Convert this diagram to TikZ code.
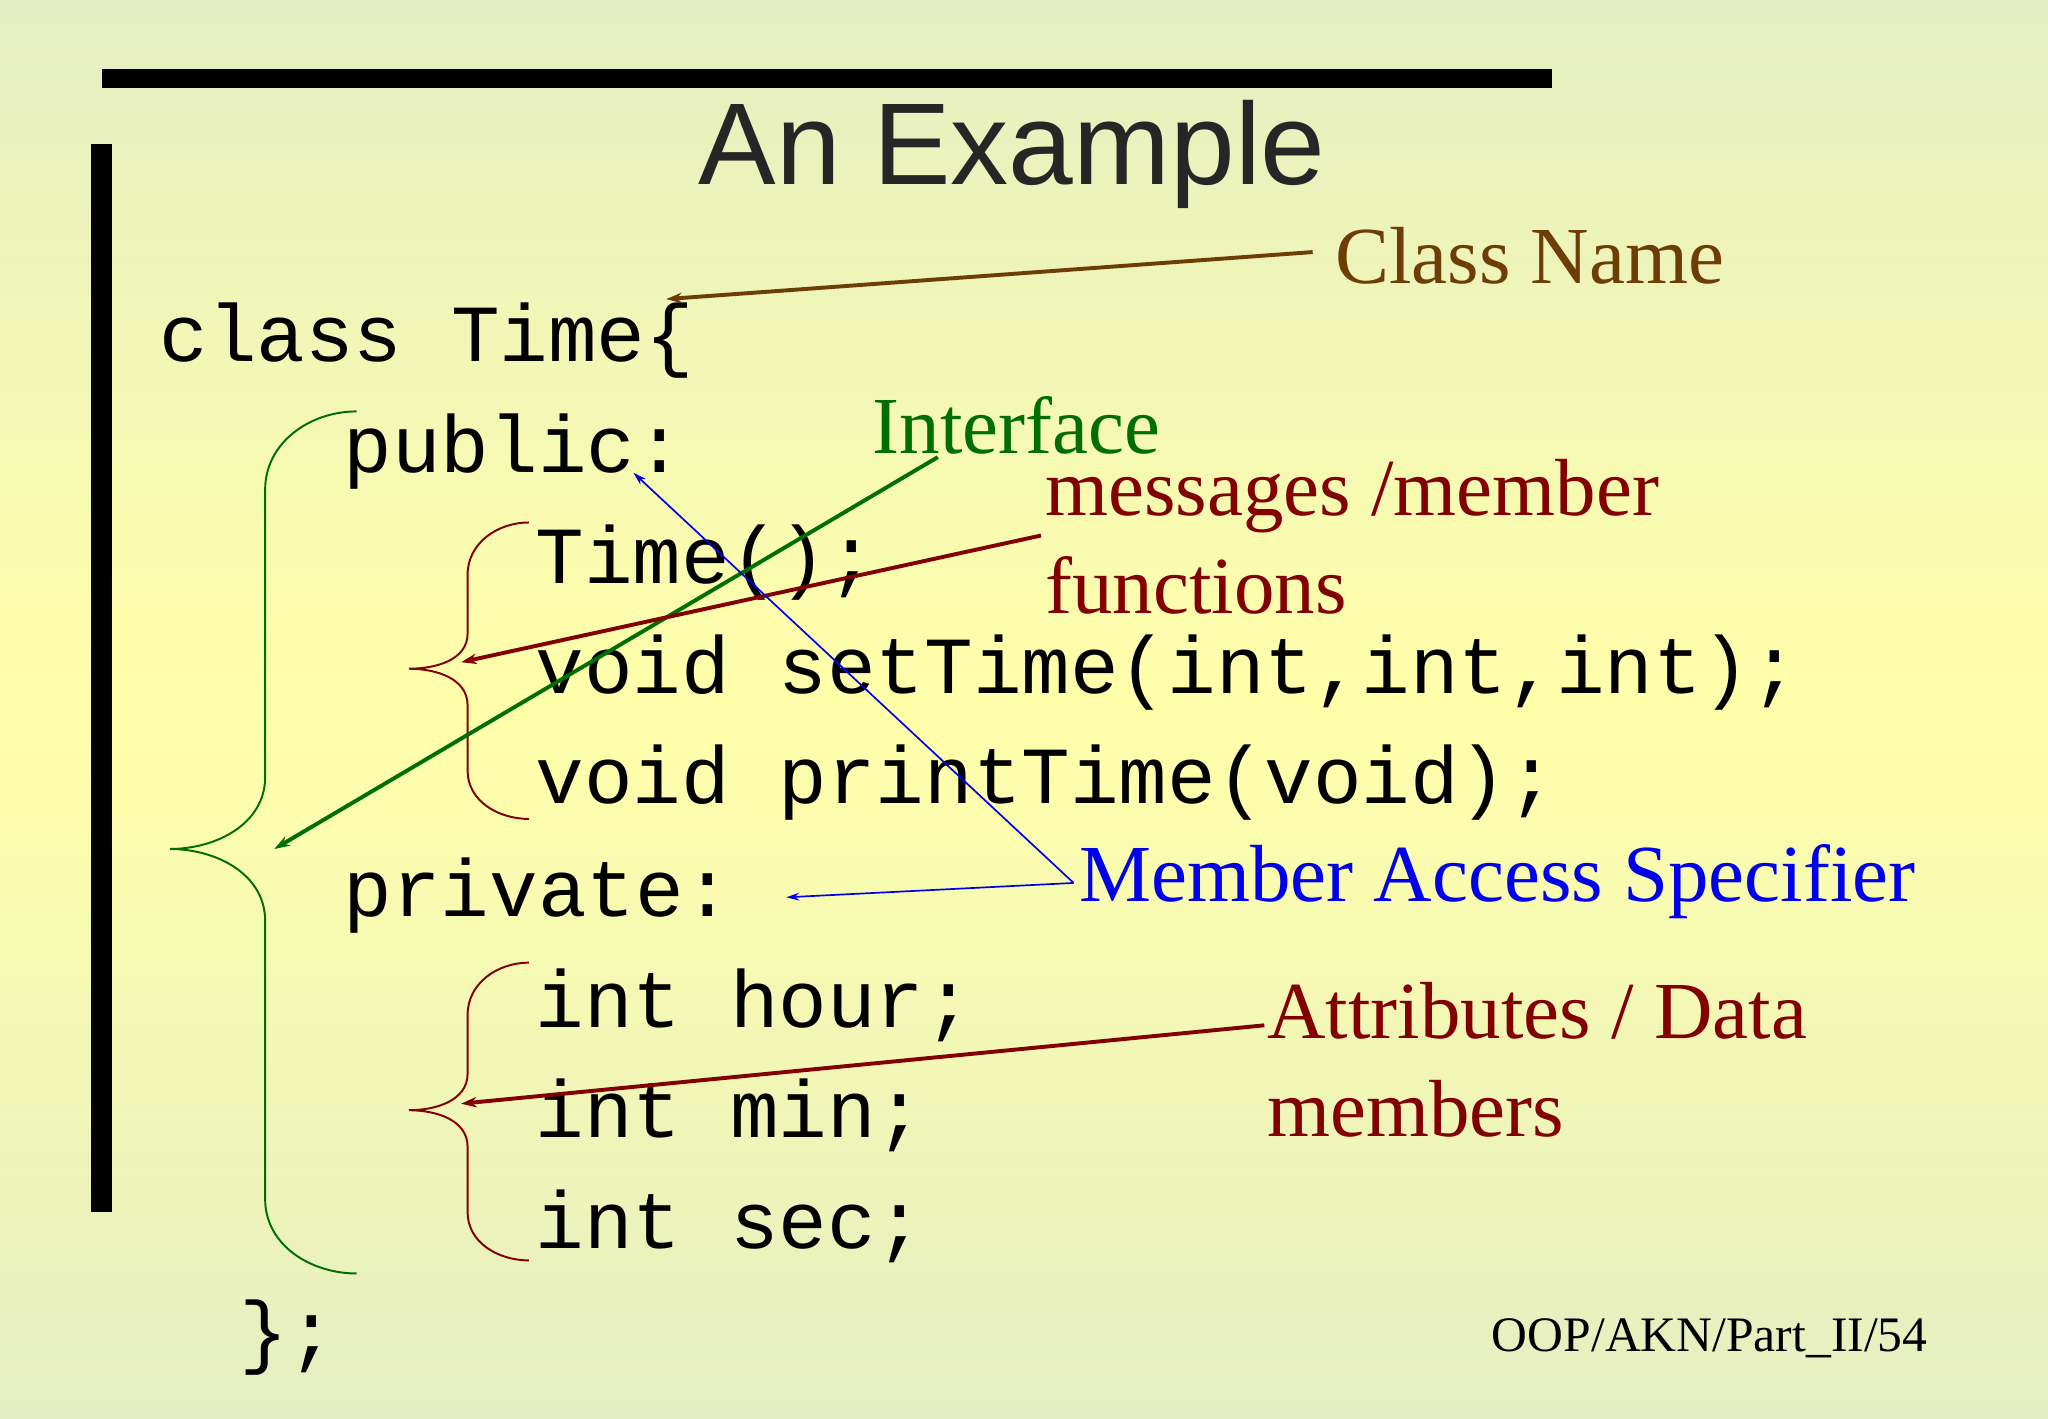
\documentclass[tikz,border=0pt]{standalone}
\usepackage{fontspec}
\setmainfont{Liberation Serif}
\newfontfamily\codefont{Liberation Mono}
\newfontfamily\titlefont{Liberation Sans}
\usetikzlibrary{arrows.meta}
\definecolor{bgblue}{RGB}{172,202,245}
\definecolor{bgyellow}{RGB}{255,255,170}
\definecolor{cbrown}{RGB}{110,60,5}
\definecolor{cgreen}{RGB}{0,110,0}
\definecolor{cred}{RGB}{130,0,0}
\definecolor{cblue}{RGB}{0,0,235}
\tikzset{
 code/.style={anchor=base west,inner sep=0,font=\codefont\fontsize{62}{62}\selectfont},
 lbl/.style={anchor=base west,inner sep=0,font=\fontsize{62}{62}\selectfont},
 arr/.style={-{Stealth[length=12pt,width=8pt]},line width=3pt},
 thinarr/.style={-{Stealth[length=10pt,width=6pt]},line width=1.3pt,cblue},
}
\begin{document}
\begin{tikzpicture}[x=1pt,y=-1pt]
\useasboundingbox (0,0) rectangle (1568,1086);
\begin{scope}
\clip (0,0) rectangle (1568,1086);
\begin{scope}[shift={(784,543)},rotate=45]
\shade[top color=bgblue,bottom color=bgblue,middle color=bgyellow] (-1400,-1000) rectangle (1400,1000);
\end{scope}
\end{scope}
\fill (78,53) rectangle (1188,67);
\fill (70,110) rectangle (86,928);
\node[inner sep=0,font=\titlefont\fontsize{89}{89}\selectfont,text=black!85] (title) at (775,118) {An Example};
\node[code] (l1) at (122,277) {class Time\{};
\node[code] (l2) at (263,362) {public:};
\node[code] (l3) at (410,447) {Time();};
\node[code] (l4) at (410,531) {void setTime(int,int,int);};
\node[code] (l5) at (410,615) {void printTime(void);};
\node[code] (l6) at (263,702) {private:};
\node[code] (l7) at (410,787) {int hour;};
\node[code] (l8) at (410,871) {int min;};
\node[code] (l9) at (410,956) {int sec;};
\node[code] (l10) at (183,1040) {\};};
\draw[cgreen,line width=1.5pt] (273,315) to[out=180,in=90] (203,375) -- (203,595) to[out=-90,in=0] (130,650) to[out=0,in=90] (203,705) -- (203,918) to[out=-90,in=180] (273,975);
\draw[cred,line width=1.5pt] (405,400) to[out=180,in=90] (358,440) -- (358,485) to[out=-90,in=0] (313,512) to[out=0,in=90] (358,540) -- (358,590) to[out=-90,in=180] (405,627);
\draw[cred,line width=1.5pt] (405,737) to[out=180,in=90] (358,777) -- (358,822) to[out=-90,in=0] (313,850) to[out=0,in=90] (358,878) -- (358,928) to[out=-90,in=180] (405,965);
\node[lbl,text=cbrown] (cn) at (1022,217) {Class Name};
\node[lbl,text=cgreen] (intf) at (668,347) {Interface};
\node[lbl,text=cred] (msg) at (800,395) {messages /member};
\node[lbl,text=cred] (fun) at (800,470) {functions};
\node[lbl,text=cblue] (mas) at (826,690) {Member Access Specifier};
\node[lbl,text=cred] (att) at (970,795) {Attributes / Data};
\node[lbl,text=cred] (mem) at (970,870) {members};
\node[anchor=base east,inner sep=0,font=\fontsize{38}{38}\selectfont] (foot) at (1476,1035) {OOP/AKN/Part\_II/54};
\coordinate (cnA) at (1005,193); \coordinate (cnB) at (510,229);
\coordinate (inA) at (718,350); \coordinate (inB) at (210,650);
\coordinate (msA) at (797,410); \coordinate (msB) at (353,507);
\coordinate (maA) at (822,676); \coordinate (maB) at (485,362); \coordinate (maC) at (602,687);
\coordinate (atA) at (968,785); \coordinate (atB) at (353,845);
\draw[arr,cbrown] (cnA) -- (cnB);
\draw[arr,cgreen] (inA) -- (inB);
\draw[arr,cred] (msA) -- (msB);
\draw[thinarr] (maA) -- (maB);
\draw[thinarr] (maA) -- (maC);
\draw[arr,cred] (atA) -- (atB);
\end{tikzpicture}
\end{document}
